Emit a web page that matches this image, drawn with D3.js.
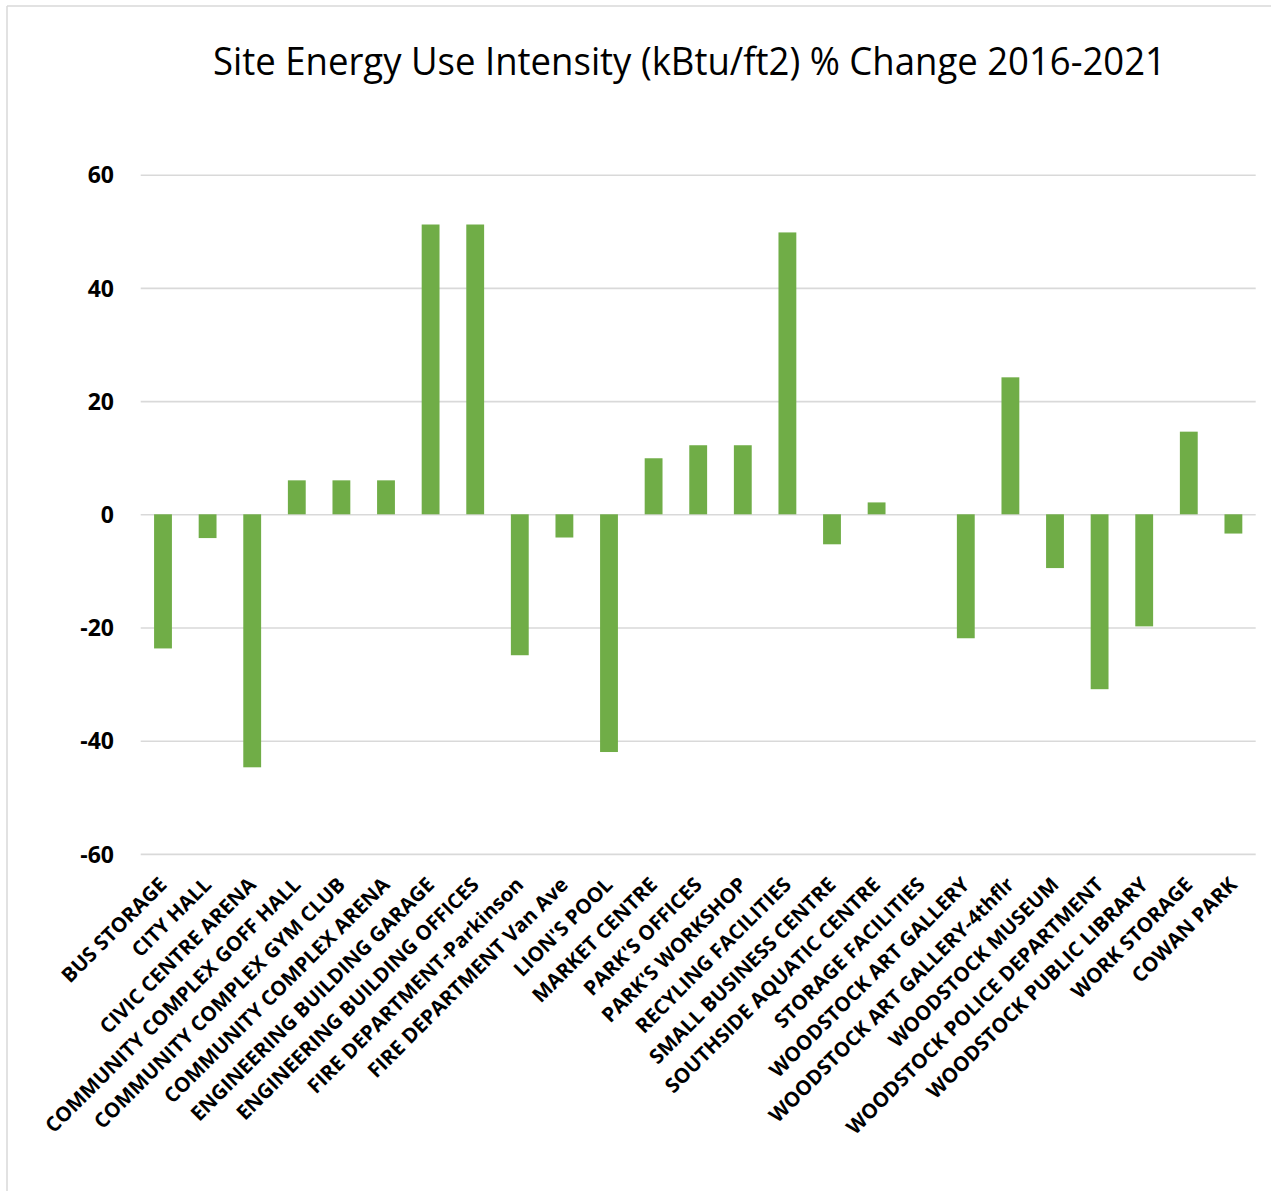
<!DOCTYPE html>
<html>
<head>
<meta charset="utf-8">
<script src="https://cdn.jsdelivr.net/npm/d3@7"></script>
<style>
  html, body { margin: 0; padding: 0; background: #fff; }
  svg { display: block; }
</style>
</head>
<body>
<svg id="chart" width="1271" height="1191"></svg>
<script>
const title = "Site Energy Use Intensity (kBtu/ft2) % Change 2016-2021";

const categories = [
  "BUS STORAGE",
  "CITY HALL",
  "CIVIC CENTRE ARENA",
  "COMMUNITY COMPLEX GOFF HALL",
  "COMMUNITY COMPLEX GYM CLUB",
  "COMMUNITY COMPLEX ARENA",
  "ENGINEERING BUILDING GARAGE",
  "ENGINEERING BUILDING OFFICES",
  "FIRE DEPARTMENT-Parkinson",
  "FIRE DEPARTMENT Van Ave",
  "LION'S POOL",
  "MARKET CENTRE",
  "PARK'S OFFICES",
  "PARK'S WORKSHOP",
  "RECYLING FACILITIES",
  "SMALL BUSINESS CENTRE",
  "SOUTHSIDE AQUATIC CENTRE",
  "STORAGE FACILITIES",
  "WOODSTOCK ART GALLERY",
  "WOODSTOCK ART GALLERY-4thflr",
  "WOODSTOCK MUSEUM",
  "WOODSTOCK POLICE DEPARTMENT",
  "WOODSTOCK PUBLIC LIBRARY",
  "WORK STORAGE",
  "COWAN PARK"
];

const values = [
  -23.7, -4.2, -44.7, 6.0, 6.0, 6.0, 51.2, 51.2, -24.9, -4.1,
  -42.0, 9.9, 12.2, 12.2, 49.8, -5.3, 2.1, 0, -21.9, 24.2,
  -9.5, -30.9, -19.8, 14.6, -3.4
];

const yTicks = [-60, -40, -20, 0, 20, 40, 60];

const svg = d3.select("#chart");
const W = 1271, H = 1191;

// chart frame (left and top edges visible)
svg.append("line").attr("x1", 7).attr("x2", 7).attr("y1", 6).attr("y2", H)
  .attr("stroke", "#d9d9d9").attr("stroke-width", 1.5);
svg.append("line").attr("x1", 7).attr("x2", W).attr("y1", 6).attr("y2", 6)
  .attr("stroke", "#d9d9d9").attr("stroke-width", 1.5);

const plot = { left: 140.7, right: 1255.7 };

const x = d3.scaleBand()
  .domain(categories)
  .range([plot.left, plot.right])
  .paddingInner(0.6)
  .paddingOuter(0.3);

const y = d3.scaleLinear()
  .domain([-60, 60])
  .range([853.9, 174.7]);

// gridlines
const grid = svg.append("g")
  .attr("transform", `translate(${plot.left},0)`)
  .call(d3.axisLeft(y).tickValues(yTicks).tickSize(-(plot.right - plot.left)).tickFormat(""));
grid.select(".domain").remove();
grid.selectAll(".tick line").attr("stroke", "#d9d9d9").attr("stroke-width", 1.6);

// y tick labels
const yAxis = svg.append("g")
  .attr("transform", `translate(114,0)`)
  .call(d3.axisLeft(y).tickValues(yTicks).tickSize(0).tickPadding(0).tickFormat(d => String(d)));
yAxis.select(".domain").remove();
yAxis.selectAll(".tick text")
  .attr("x", 0)
  .attr("dy", "0.36em")
  .attr("text-anchor", "end")
  .attr("fill", "#000")
  .style("font-family", "'Open Sans', sans-serif")
  .style("font-weight", "700")
  .style("font-size", "23px");

// bars
svg.append("g").selectAll("rect")
  .data(values)
  .join("rect")
  .attr("x", (d, i) => x(categories[i]))
  .attr("width", x.bandwidth())
  .attr("y", d => y(Math.max(0, d)))
  .attr("height", d => Math.abs(y(d) - y(0)))
  .attr("fill", "#70ad47");

// category labels
const xAxis = svg.append("g")
  .attr("transform", `translate(0,${y(0)})`)
  .call(d3.axisBottom(x).tickSize(0).tickPadding(0));
xAxis.select(".domain").remove();
xAxis.selectAll(".tick text")
  .attr("y", 0)
  .attr("dy", 0)
  .attr("text-anchor", "end")
  .attr("transform", `translate(5,${886 - y(0)}) rotate(-45)`)
  .attr("fill", "#000")
  .style("font-family", "'Open Sans', sans-serif")
  .style("font-weight", "700")
  .style("font-size", "20.4px");

// title
svg.append("text")
  .attr("x", 689.5)
  .attr("y", 75)
  .attr("text-anchor", "middle")
  .attr("textLength", 953)
  .attr("lengthAdjust", "spacingAndGlyphs")
  .style("font-family", "'Open Sans', sans-serif")
  .style("font-size", "37.5px")
  .attr("fill", "#000")
  .text(title);
</script>
</body>
</html>
